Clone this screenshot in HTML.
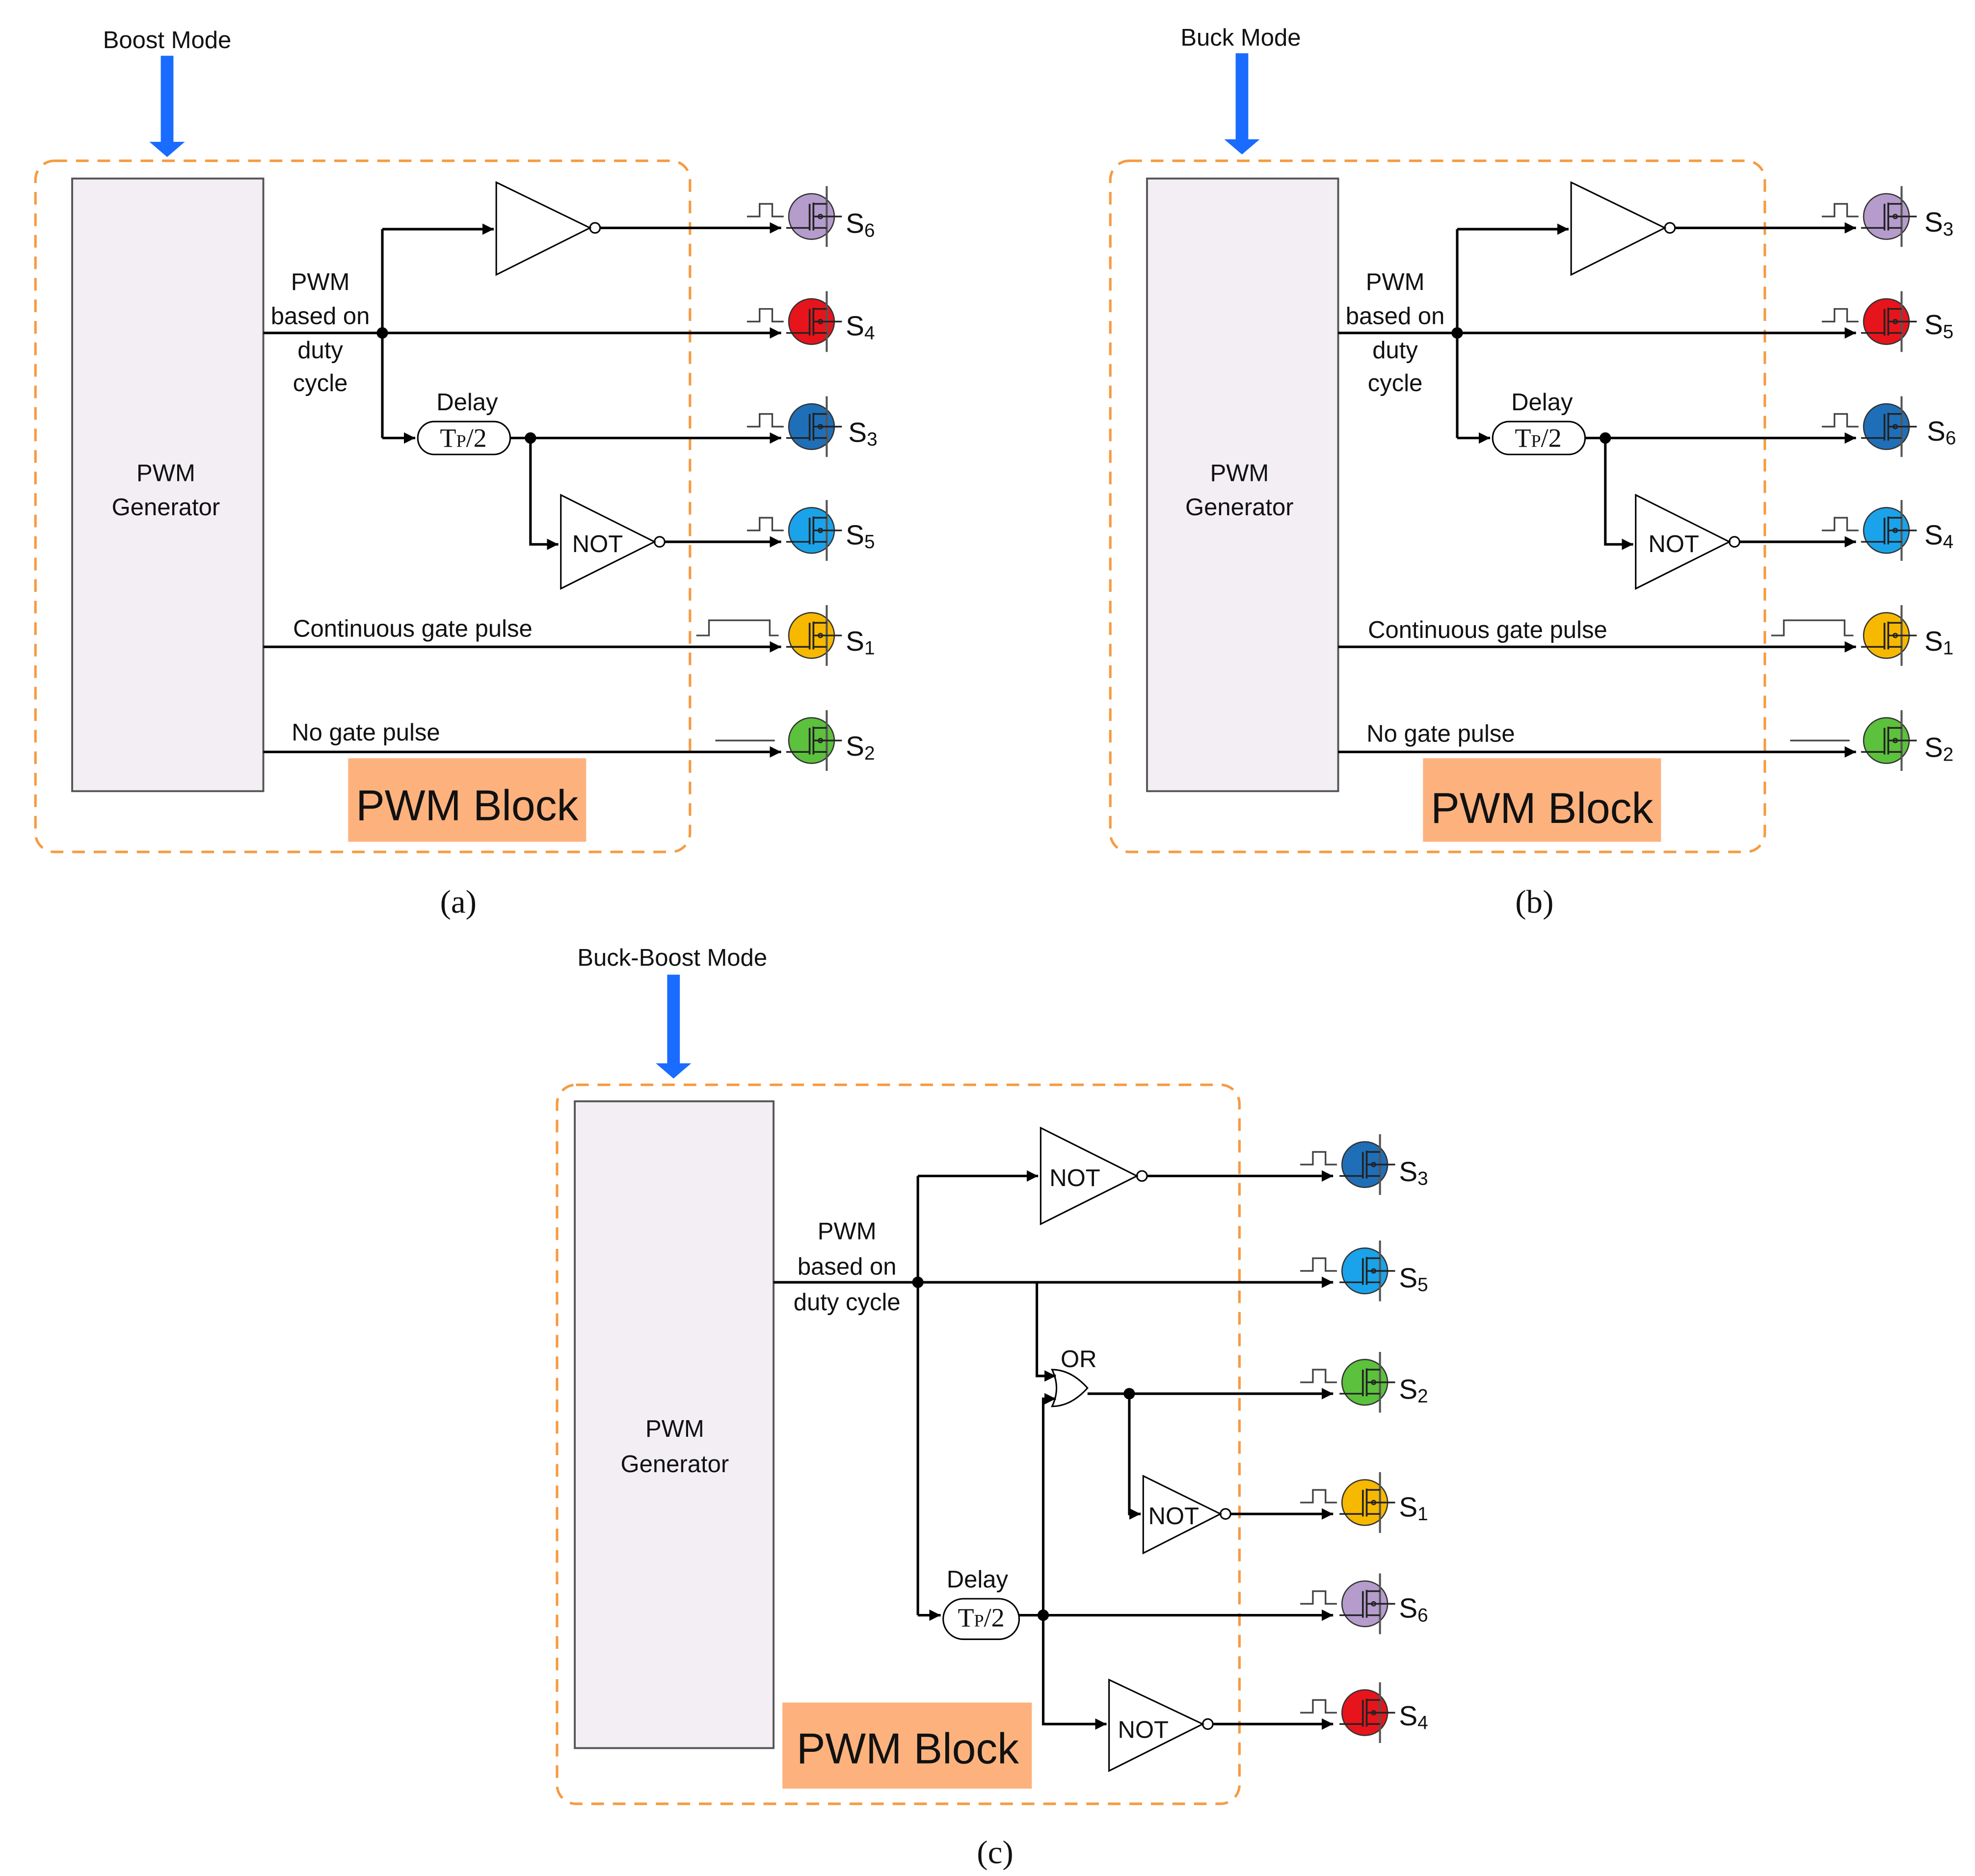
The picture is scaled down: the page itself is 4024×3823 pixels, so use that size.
<!DOCTYPE html>
<html><head><meta charset="utf-8"><style>
html,body{margin:0;padding:0;background:#fff}
svg{display:block}
text{font-family:"Liberation Sans",sans-serif;fill:#111}
.s{font-family:"Liberation Serif",serif}
</style></head><body>
<svg width="4024" height="3823" viewBox="0 0 1560 1482" xmlns="http://www.w3.org/2000/svg">
<defs>
<marker id="ar" viewBox="0 0 10 10" refX="10" refY="5" markerWidth="9" markerHeight="9" markerUnits="userSpaceOnUse" orient="auto"><path d="M0 0 L10 5 L0 10 z" fill="#000"/></marker>
<symbol id="m" overflow="visible">
<circle cx="0" cy="0" r="18" fill="currentColor" stroke="#333" stroke-width="1"/>
<line x1="12" y1="-24" x2="12" y2="24" stroke="#555" stroke-width="1.6"/>
<line x1="-1.5" y1="-10" x2="-1.5" y2="11" stroke="#222" stroke-width="1.4"/>
<line x1="1.5" y1="-11" x2="1.5" y2="11" stroke="#222" stroke-width="1.4"/>
<path d="M1.5 -10 H12 M1.5 0 H24 M1.5 9 H12 M-20 9 H-1.5" stroke="#222" stroke-width="1.3" fill="none"/>
<circle cx="7" cy="0" r="1.6" fill="none" stroke="#222" stroke-width="1"/>
</symbol>
<symbol id="p" overflow="visible"><path d="M-51 0 H-41 V-10 H-31 V0 H-22" fill="none" stroke="#444" stroke-width="1.3"/></symbol>
</defs>

<g stroke="#000" stroke-width="2" fill="none">
<!-- panel a -->
<g id="pa">
<rect x="28" y="127" width="517" height="546" rx="15" stroke="#f59b42" stroke-width="2" stroke-dasharray="10,7"/>
<rect x="57" y="141" width="151" height="484" fill="#f2eef4" stroke="#555" stroke-width="1.5"/>
<path d="M208 263 H617" marker-end="url(#ar)"/>
<path d="M302 181 V346"/>
<path d="M302 181 H390" marker-end="url(#ar)"/>
<polygon points="392,144 392,217 466,180" stroke-width="1.2"/>
<circle cx="470" cy="180" r="4" stroke-width="1.2"/>
<path d="M474 180 H617" marker-end="url(#ar)"/>
<path d="M302 346 H328" marker-end="url(#ar)"/>
<rect x="330" y="333" width="73" height="26" rx="13" stroke-width="1.2"/>
<path d="M403 346 H617" marker-end="url(#ar)"/>
<path d="M419 346 V430 H441" marker-end="url(#ar)"/>
<polygon points="443,391 443,465 517,428" stroke-width="1.2"/>
<circle cx="521" cy="428" r="4" stroke-width="1.2"/>
<path d="M525 428 H617" marker-end="url(#ar)"/>
<path d="M208 511 H617" marker-end="url(#ar)"/>
<path d="M208 594 H617" marker-end="url(#ar)"/>
<circle cx="302" cy="263" r="4.5" fill="#000" stroke="none"/>
<circle cx="419" cy="346" r="4.5" fill="#000" stroke="none"/>
<rect x="275" y="599" width="188" height="66" fill="#fdb27d" stroke="none"/>
<path d="M550 502 H560 V490 H608 V502 H615" stroke="#444" stroke-width="1.3"/>
<path d="M565 585 H612" stroke="#444" stroke-width="1.3"/>
</g>
<use href="#pa" transform="translate(849,0)"/>
</g>

<!-- blue arrows -->
<g fill="#1a6bff">
<path d="M127 44 H137 V112 H146 L132 124 L118 112 H127 Z"/>
<path d="M976 42 H986 V110 H995 L981 122 L967 110 H976 Z"/>
<path d="M527 770 H537 V840 H546 L532 852 L518 840 H527 Z"/>
</g>

<!-- transistors a -->
<g>
<use href="#p" x="641" y="171"/><use href="#m" x="641" y="171" style="color:#b59ccc"/>
<use href="#p" x="641" y="254"/><use href="#m" x="641" y="254" style="color:#e8141b"/>
<use href="#p" x="641" y="337"/><use href="#m" x="641" y="337" style="color:#1f6fb8"/>
<use href="#p" x="641" y="419"/><use href="#m" x="641" y="419" style="color:#1aa3ea"/>
<use href="#m" x="641" y="502" style="color:#f7b800"/>
<use href="#m" x="641" y="585" style="color:#5cc13c"/>
<!-- b -->
<use href="#p" x="1490" y="171"/><use href="#m" x="1490" y="171" style="color:#b59ccc"/>
<use href="#p" x="1490" y="254"/><use href="#m" x="1490" y="254" style="color:#e8141b"/>
<use href="#p" x="1490" y="337"/><use href="#m" x="1490" y="337" style="color:#1f6fb8"/>
<use href="#p" x="1490" y="419"/><use href="#m" x="1490" y="419" style="color:#1aa3ea"/>
<use href="#m" x="1490" y="502" style="color:#f7b800"/>
<use href="#m" x="1490" y="585" style="color:#5cc13c"/>
</g>

<!-- panel c -->
<g stroke="#000" stroke-width="2" fill="none">
<rect x="440" y="857" width="539" height="568" rx="15" stroke="#f59b42" stroke-width="2" stroke-dasharray="10,7"/>
<rect x="454" y="870" width="157" height="511" fill="#f2eef4" stroke="#555" stroke-width="1.5"/>
<path d="M611 1013 H1053" marker-end="url(#ar)"/>
<path d="M725 929 V1276"/>
<path d="M725 929 H820" marker-end="url(#ar)"/>
<polygon points="822,891 822,967 898,929" stroke-width="1.2"/>
<circle cx="902" cy="929" r="4" stroke-width="1.2"/>
<path d="M906 929 H1053" marker-end="url(#ar)"/>
<path d="M819 1013 V1087 H834" marker-end="url(#ar)"/>
<path d="M824 1276 V1105 H834" marker-end="url(#ar)"/>
<path d="M831 1082 Q846 1082 859 1096.5 Q846 1111 831 1111 Q838 1096.5 831 1082 Z" stroke-width="1.2"/>
<path d="M859 1101 H1053" marker-end="url(#ar)"/>
<path d="M892 1101 V1196 H901" marker-end="url(#ar)"/>
<polygon points="903,1166 903,1227 964,1196" stroke-width="1.2"/>
<circle cx="968" cy="1196" r="4" stroke-width="1.2"/>
<path d="M972 1196 H1053" marker-end="url(#ar)"/>
<path d="M725 1276 H743" marker-end="url(#ar)"/>
<rect x="745" y="1263" width="60" height="32" rx="16" stroke-width="1.2"/>
<path d="M805 1276 H1053" marker-end="url(#ar)"/>
<path d="M824 1276 V1362 H874" marker-end="url(#ar)"/>
<polygon points="876,1327 876,1399 950,1362" stroke-width="1.2"/>
<circle cx="954" cy="1362" r="4" stroke-width="1.2"/>
<path d="M958 1362 H1053" marker-end="url(#ar)"/>
<circle cx="725" cy="1013" r="4.5" fill="#000" stroke="none"/>
<circle cx="892" cy="1101" r="4.5" fill="#000" stroke="none"/>
<circle cx="824" cy="1276" r="4.5" fill="#000" stroke="none"/>
<rect x="618" y="1345" width="197" height="68" fill="#fdb27d" stroke="none"/>
</g>
<g>
<use href="#p" x="1078" y="920"/><use href="#m" x="1078" y="920" style="color:#1f6fb8"/>
<use href="#p" x="1078" y="1004"/><use href="#m" x="1078" y="1004" style="color:#1aa3ea"/>
<use href="#p" x="1078" y="1092"/><use href="#m" x="1078" y="1092" style="color:#5cc13c"/>
<use href="#p" x="1078" y="1187"/><use href="#m" x="1078" y="1187" style="color:#f7b800"/>
<use href="#p" x="1078" y="1267"/><use href="#m" x="1078" y="1267" style="color:#b59ccc"/>
<use href="#p" x="1078" y="1353"/><use href="#m" x="1078" y="1353" style="color:#e8141b"/>
</g>

<!-- texts a -->
<g font-size="19" text-anchor="middle">
<text x="132" y="38">Boost Mode</text>
<text x="131" y="380">PWM</text><text x="131" y="407">Generator</text>
<text x="253" y="229">PWM</text><text x="253" y="256">based on</text><text x="253" y="283">duty</text><text x="253" y="309">cycle</text>
<text x="369" y="324">Delay</text>
<text x="472" y="436">NOT</text>
<text x="326" y="503">Continuous gate pulse</text>
<text x="289" y="585">No gate pulse</text>
<text x="369" y="648" font-size="34">PWM Block</text>
<text x="362" y="721" class="s" font-size="26">(a)</text>
<text x="366" y="353" class="s" font-size="21">T<tspan font-size="14">P</tspan>/2</text>

<text x="980" y="36">Buck Mode</text>
<text x="979" y="380">PWM</text><text x="979" y="407">Generator</text>
<text x="1102" y="229">PWM</text><text x="1102" y="256">based on</text><text x="1102" y="283">duty</text><text x="1102" y="309">cycle</text>
<text x="1218" y="324">Delay</text>
<text x="1322" y="436">NOT</text>
<text x="1175" y="504">Continuous gate pulse</text>
<text x="1138" y="586">No gate pulse</text>
<text x="1218" y="650" font-size="34">PWM Block</text>
<text x="1212" y="721" class="s" font-size="26">(b)</text>
<text x="1215" y="353" class="s" font-size="21">T<tspan font-size="14">P</tspan>/2</text>

<text x="531" y="763">Buck-Boost Mode</text>
<text x="533" y="1135">PWM</text><text x="533" y="1163">Generator</text>
<text x="669" y="979">PWM</text><text x="669" y="1007">based on</text><text x="669" y="1035">duty cycle</text>
<text x="849" y="937">NOT</text>
<text x="852" y="1080">OR</text>
<text x="927" y="1204">NOT</text>
<text x="772" y="1254">Delay</text>
<text x="903" y="1373">NOT</text>
<text x="717" y="1393" font-size="34">PWM Block</text>
<text x="786" y="1472" class="s" font-size="26">(c)</text>
<text x="775" y="1285" class="s" font-size="21">T<tspan font-size="14">P</tspan>/2</text>
</g>

<!-- S labels -->
<g font-size="22">
<text x="668" y="184">S<tspan font-size="15" dy="3">6</tspan></text>
<text x="668" y="265">S<tspan font-size="15" dy="3">4</tspan></text>
<text x="670" y="349">S<tspan font-size="15" dy="3">3</tspan></text>
<text x="668" y="430">S<tspan font-size="15" dy="3">5</tspan></text>
<text x="668" y="514">S<tspan font-size="15" dy="3">1</tspan></text>
<text x="668" y="597">S<tspan font-size="15" dy="3">2</tspan></text>
<text x="1520" y="183">S<tspan font-size="15" dy="3">3</tspan></text>
<text x="1520" y="264">S<tspan font-size="15" dy="3">5</tspan></text>
<text x="1522" y="348">S<tspan font-size="15" dy="3">6</tspan></text>
<text x="1520" y="430">S<tspan font-size="15" dy="3">4</tspan></text>
<text x="1520" y="514">S<tspan font-size="15" dy="3">1</tspan></text>
<text x="1520" y="598">S<tspan font-size="15" dy="3">2</tspan></text>
<text x="1105" y="933">S<tspan font-size="15" dy="3">3</tspan></text>
<text x="1105" y="1017">S<tspan font-size="15" dy="3">5</tspan></text>
<text x="1105" y="1105">S<tspan font-size="15" dy="3">2</tspan></text>
<text x="1105" y="1198">S<tspan font-size="15" dy="3">1</tspan></text>
<text x="1105" y="1278">S<tspan font-size="15" dy="3">6</tspan></text>
<text x="1105" y="1363">S<tspan font-size="15" dy="3">4</tspan></text>
</g>
</svg>
</body></html>
